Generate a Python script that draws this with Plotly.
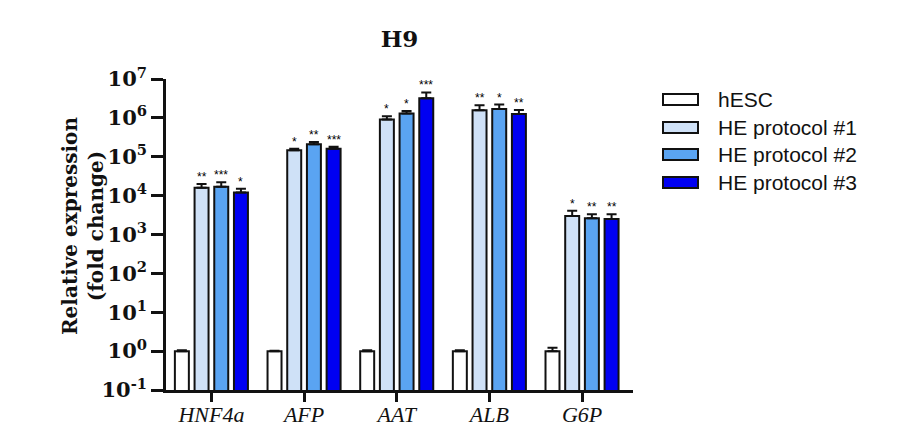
import math
import plotly.graph_objects as go

# ---------------- data ----------------
genes = ["HNF4a", "AFP", "AAT", "ALB", "G6P"]
series_names = ["hESC", "HE protocol #1", "HE protocol #2", "HE protocol #3"]

hesc_vals = [1.0, 1.0, 1.0, 1.0, 1.0]
hesc_err = [0.05, 0.03, 0.05, 0.05, 0.22]

p1_vals = [1.6e4, 1.48e5, 9.1e5, 1.58e6, 3.0e3]
p1_err = [4.0e3, 1.2e4, 1.9e5, 5.2e5, 1.1e3]

p2_vals = [1.7e4, 2.1e5, 1.3e6, 1.7e6, 2.6e3]
p2_err = [5.0e3, 3.0e4, 2.0e5, 5.0e5, 7.0e2]

p3_vals = [1.2e4, 1.6e5, 3.2e6, 1.26e6, 2.5e3]
p3_err = [3.0e3, 2.0e4, 1.3e6, 3.4e5, 8.0e2]

p1_sig = ["**", "*", "*", "**", "*"]
p2_sig = ["***", "**", "*", "*", "**"]
p3_sig = ["*", "***", "***", "**", "**"]

tick_exponents = [-1, 0, 1, 2, 3, 4, 5, 6, 7]

# ---------------- styles ----------------
colors = ["#FFFFFF", "#CFE1F7", "#5AA4F2", "#0000F2"]
W, H = 897, 431
L_PX, R_PX, T_PX, B_PX = 166, 633, 79, 390

vals = [hesc_vals, p1_vals, p2_vals, p3_vals]
errs = [hesc_err, p1_err, p2_err, p3_err]
sigs = [None, p1_sig, p2_sig, p3_sig]

fig = go.Figure()
for name, v, e, c in zip(series_names, vals, errs, colors):
    fig.add_trace(go.Bar(
        x=genes, y=v, name=name, showlegend=False,
        marker=dict(color=c, line=dict(color="#111111", width=2)),
        error_y=dict(type="data", array=e, arrayminus=[0] * len(e), symmetric=False,
                     color="#111111", thickness=2, width=5),
    ))

# significance stars, placed via the data scale
n_series = len(series_names)
bargap = 0.15
slot = (1 - bargap) / n_series
annotations = []
for s in range(1, n_series):
    for i, g in enumerate(genes):
        top = vals[s][i] + errs[s][i]
        xoff = (s - (n_series - 1) / 2) * slot
        annotations.append(dict(
            x=i + xoff, y=math.log10(top), xref="x", yref="y",
            text=sigs[s][i], showarrow=False, yanchor="middle", yshift=7,
            font=dict(family="Liberation Sans", size=12, color="#000000"),
        ))

# y axis title
pw = R_PX - L_PX
ph = B_PX - T_PX
annotations.append(dict(
    x=(83 - L_PX) / pw, y=(B_PX - 226) / ph, xref="paper", yref="paper",
    text="<b>Relative expression</b><br><b>(fold change)</b>", textangle=-90,
    showarrow=False, xanchor="center", yanchor="middle",
    font=dict(family="DejaVu Serif", size=20, color="#111111"),
))

# custom legend
shapes = []
row_y = [99.5, 127.5, 154.5, 182.5]
for name, c, yy in zip(series_names, colors, row_y):
    shapes.append(dict(
        type="rect", xref="paper", yref="paper",
        x0=(663 - L_PX) / pw, x1=(698 - L_PX) / pw,
        y0=(B_PX - (yy + 5.5)) / ph, y1=(B_PX - (yy - 5.5)) / ph,
        fillcolor=c, line=dict(color="#111111", width=2),
    ))
    annotations.append(dict(
        x=(716 - L_PX) / pw, y=(B_PX - yy) / ph, xref="paper", yref="paper",
        text=name, showarrow=False, xanchor="left", yanchor="middle",
        font=dict(family="Liberation Sans", size=21, color="#111111"),
    ))

fig.update_layout(
    width=W, height=H,
    margin=dict(l=L_PX, r=W - R_PX, t=T_PX, b=H - B_PX, autoexpand=False),
    paper_bgcolor="white", plot_bgcolor="white",
    barmode="group", bargap=bargap, bargroupgap=0.29,
    title=dict(text="<b>H9</b>", x=0.5, xref="paper", xanchor="center",
               y=1 - 39 / H, yref="container", yanchor="middle",
               font=dict(family="DejaVu Serif", size=23, color="#111111")),
    annotations=annotations, shapes=shapes,
)

fig.update_xaxes(
    range=[-0.49, 4.55], showline=True, linecolor="#111111", linewidth=2.5,
    ticks="outside", ticklen=9, tickwidth=2.5, tickcolor="#111111",
    ticklabelstandoff=-6,
    tickfont=dict(family="Liberation Serif", size=22, color="#111111", style="italic"),
    showgrid=False, zeroline=False,
)
fig.update_yaxes(
    type="log", range=[-1, 7], showline=True, linecolor="#111111", linewidth=2.5,
    ticks="outside", ticklen=12, tickwidth=2.5, tickcolor="#111111",
    tickmode="array", tickvals=[10 ** e for e in tick_exponents],
    ticktext=["<b>10<sup>%d</sup></b>" % e for e in tick_exponents],
    tickfont=dict(family="DejaVu Serif", size=21, color="#111111"),
    showgrid=False, zeroline=False,
)

fig.write_html(
    "out.html",
    config={"displayModeBar": False},
    post_script="document.body.style.margin='0';document.body.style.overflow='hidden';",
)
